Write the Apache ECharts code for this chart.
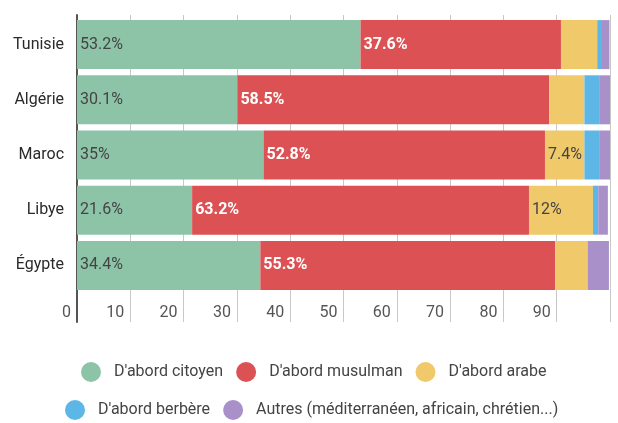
<!DOCTYPE html>
<html><head><meta charset="utf-8">
<script src="https://cdn.jsdelivr.net/npm/echarts@6/dist/echarts.min.js"></script>
<style>html,body{margin:0;padding:0;background:#fff}#c{width:618px;height:423px}</style>
</head><body><div id="c"></div>
<script>
const countries = ['Tunisie', 'Algérie', 'Maroc', 'Libye', 'Égypte'];
const seriesNames = ["D'abord citoyen", "D'abord musulman", "D'abord arabe", "D'abord berbère", "Autres (méditerranéen, africain, chrétien...)"];
const citoyen  = [53.2, 30.1, 35, 21.6, 34.4];
const musulman = [37.6, 58.5, 52.8, 63.2, 55.3];
const arabe    = [6.8, 6.6, 7.4, 12, 6.1];
const berbere  = [0.9, 2.9, 2.9, 1.0, 0];
const autres   = [1.4, 1.9, 1.9, 1.8, 4.0];
const xTicks = [0, 10, 20, 30, 40, 50, 60, 70, 80, 90];
const colors = ['#8dc4a8', '#dc5254', '#f0ca6a', '#5db7e6', '#a990c8'];
const values = [citoyen, musulman, arabe, berbere, autres];

const font = 'Roboto, "Noto Sans", sans-serif';
const labelStyles = [
  {show: true, color: '#444', fontWeight: 'normal'},
  {show: true, color: '#fff', fontWeight: 'bold'},
  {show: true, color: '#444', fontWeight: 'normal'},
  {show: false},
  {show: false}
];
const legendText = {fontSize: 16, color: '#444', fontFamily: font, padding: [0, 0, 0, 8]};

const chart = echarts.init(document.getElementById('c'));
chart.setOption({
  animation: false,
  textStyle: {fontFamily: font},
  grid: [
    {left: 77, width: 533, top: 17, height: 276},
    {left: 77, width: 533, top: 15, height: 307}
  ],
  xAxis: [
    {gridIndex: 0, type: 'value', min: 0, max: 100, show: false},
    {gridIndex: 1, type: 'value', min: 0, max: 100, interval: 10,
     axisLine: {show: false}, axisTick: {show: false},
     splitLine: {show: true, lineStyle: {color: '#c8c8c8', width: 1}},
     axisLabel: {inside: true, margin: 1, align: 'right', padding: [0, 6, 0, 0],
       fontSize: 16, color: '#555', fontFamily: font,
       formatter: v => xTicks.includes(v) ? String(v) : ''}}
  ],
  yAxis: [
    {gridIndex: 0, type: 'category', data: countries, inverse: true,
     axisLine: {show: false}, axisTick: {show: false},
     axisLabel: {fontSize: 16, color: '#2a2a2a', margin: 13, fontFamily: font}},
    {gridIndex: 1, type: 'value', min: 0, max: 1,
     axisLine: {show: true, lineStyle: {color: '#555', width: 2}},
     axisTick: {show: false}, axisLabel: {show: false}, splitLine: {show: false}}
  ],
  legend: [
    {data: seriesNames.slice(0, 3), left: 76, top: 357, icon: 'circle',
     itemWidth: 20, itemHeight: 20, itemGap: 13, textStyle: legendText},
    {data: seriesNames.slice(3), left: 60, top: 395, icon: 'circle',
     itemWidth: 20, itemHeight: 20, itemGap: 13, textStyle: legendText}
  ],
  series: seriesNames.map((name, i) => ({
    name, type: 'bar', stack: 'total', xAxisIndex: 0, yAxisIndex: 0,
    barWidth: 49, color: colors[i],
    data: values[i],
    label: Object.assign({position: 'insideLeft', distance: 3, fontSize: 16, fontFamily: font,
      formatter: p => p.value >= 7 ? p.value + '%' : ''}, labelStyles[i])
  }))
});
</script></body></html>
